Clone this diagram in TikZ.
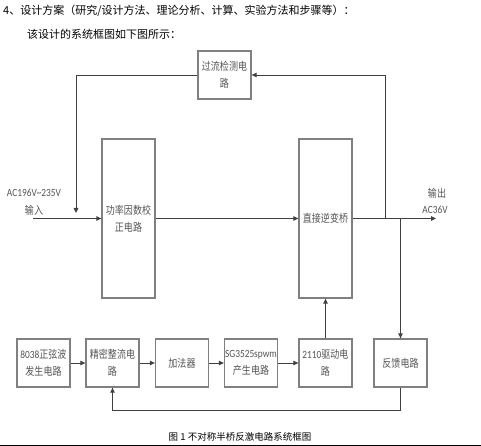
\documentclass[tikz,border=0pt]{standalone}
\usepackage{fontspec}
\setmainfont{Carlito}
\newfontfamily\cjk{Noto Sans CJK SC}
\newfontfamily\cjkn[FakeStretch=0.82]{Noto Sans CJK SC}
\newfontfamily\latn[FakeStretch=0.85]{Carlito}
\usetikzlibrary{arrows.meta}
\definecolor{boxgray}{HTML}{808080}
\definecolor{linegray}{HTML}{404040}
\definecolor{txtgray}{HTML}{555555}
\begin{document}
\begin{tikzpicture}[x=1pt,y=-1pt,
  blk/.style={draw=boxgray, line width=1.3pt, fill=white, inner sep=0pt, align=center,
    font=\cjkn\fontsize{11}{17}\selectfont, text=txtgray},
  smallblk/.style={blk, minimum width=53pt, minimum height=48pt},
  tallblk/.style={blk, minimum width=53pt, minimum height=159pt},
  conn/.style={draw=linegray, line width=0.9pt},
  arr/.style={conn, -{Triangle[length=5pt,width=4.5pt]}},
  lbl/.style={inner sep=0pt, text=txtgray},
  head/.style={anchor=west, inner sep=0pt, font=\cjk\fontsize{11}{12}\selectfont, text=black}
]
\useasboundingbox (0,0) rectangle (481,446);

% headings
\node[head] (h1) at (3,11) {4、设计方案（研究/设计方法、理论分析、计算、实验方法和步骤等）：};
\node[head] (h2) at (27,34) {该设计的系统框图如下图所示：};

% boxes
\node[smallblk] (oc) at (224.5,75) {过流检测电\\路};
\node[tallblk] (pfc) at (128.5,218.5) {功率因数校\\正电路};
\node[tallblk] (inv) at (325.5,218.5) {直接逆变桥};

\node[smallblk] (b1) at (43.5,363) {{\latn 8038}正弦波\\发生电路};
\node[smallblk] (b2) at (112.5,363) {精密整流电\\路};
\node[smallblk] (b3) at (182,363) {加法器};
\node[smallblk] (b4) at (251,363) {{\latn SG3525spwm}\\产生电路};
\node[smallblk] (b5) at (325.5,363) {{\latn 2110}驱动电\\路};
\node[smallblk] (b6) at (400.5,363) {反馈电路};

% labels
\node[lbl, font=\latn\fontsize{11}{12}\selectfont] (lin1) at (34,193) {AC196V\textasciitilde 235V};
\node[lbl, font=\cjkn\fontsize{11}{12}\selectfont] (lin2) at (34,210) {输入};
\node[lbl, font=\cjkn\fontsize{11}{12}\selectfont] (lout1) at (437,193) {输出};
\node[lbl, font=\latn\fontsize{11}{12}\selectfont] (lout2) at (435,210) {AC36V};

% coordinates
\coordinate (in) at (33,218.5);
\coordinate (out) at (436,218.5);
\coordinate (t1) at (385,218.5);
\coordinate (t2) at (400.5,218.5);
\coordinate (fbin) at (76,213);

% connectors
\draw[arr] (in) -- (pfc.west);
\draw[arr] (pfc.east) -- (inv.west);
\draw[arr] (inv.east) -- (out);
\draw[arr] (t1) |- (oc.east);
\draw[arr] (oc.west) -| (fbin);
\draw[arr] (t2) -- (b6.north);
\draw[arr] (b1.east) -- (b2.west);
\draw[arr] (b2.east) -- (b3.west);
\draw[arr] (b3.east) -- (b4.west);
\draw[arr] (b4.east) -- (b5.west);
\draw[arr] (b5.north) -- (inv.south);
\draw[arr] (b6.south) -- ++(0,23) -| (b2.south);

% caption
\node[inner sep=0pt, font=\cjk\fontsize{9.5}{11}\selectfont, text=black] (cap) at (240,437) {图 1 不对称半桥反激电路系统框图};
\draw[black, line width=1.2pt] (0,445.2) -- (481,445.2);
\end{tikzpicture}
\end{document}
